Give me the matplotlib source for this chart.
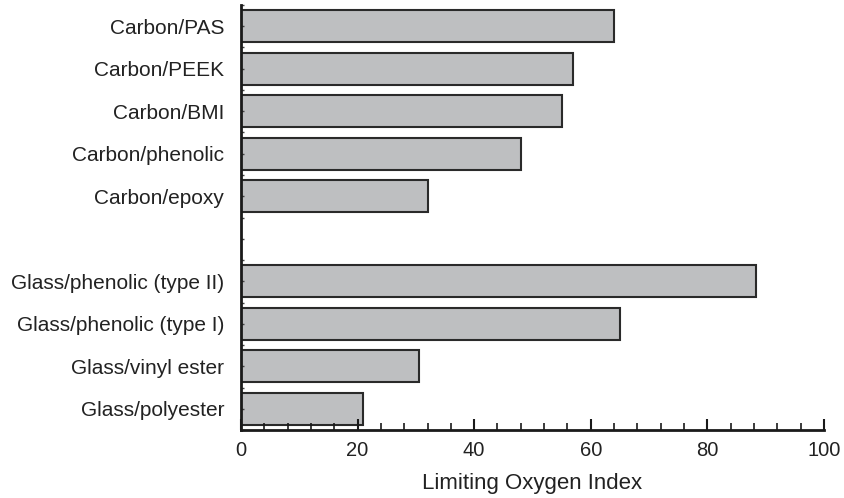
import matplotlib.pyplot as plt
from matplotlib.ticker import MultipleLocator

plt.rcParams['font.family'] = ['Liberation Sans', 'DejaVu Sans']

# dados (de cima para baixo); None = linha vazia entre os grupos
materiais = ['Carbon/PAS', 'Carbon/PEEK', 'Carbon/BMI', 'Carbon/phenolic', 'Carbon/epoxy', '',
             'Glass/phenolic (type II)', 'Glass/phenolic (type I)', 'Glass/vinyl ester', 'Glass/polyester']
loi = [64, 57, 55, 48, 32, None, 88.3, 65, 30.5, 21]

fig = plt.figure(figsize=(8.45, 4.98), dpi=100)
ax = fig.add_axes([0.2852, 0.1365, 0.9751 - 0.2852, 0.99 - 0.1365])

posicoes = [i for i, v in enumerate(loi) if v is not None]
valores = [v for v in loi if v is not None]
ax.barh(posicoes, valores, height=0.75, color='#bebfc1', edgecolor='#2a2a2a', linewidth=1.5)

ax.set_xlim(0, 100)
ax.set_ylim(len(materiais) - 0.5, -0.5)
ax.set_yticks(range(len(materiais)))
ax.set_yticklabels(materiais, fontsize=15)
ax.yaxis.set_minor_locator(MultipleLocator(0.5))
ax.xaxis.set_major_locator(MultipleLocator(20))
ax.xaxis.set_minor_locator(MultipleLocator(4))

for lado in ['top', 'right']:
    ax.spines[lado].set_visible(False)
for lado in ['left', 'bottom']:
    ax.spines[lado].set_linewidth(2)
    ax.spines[lado].set_color('#1a1a1a')

ax.tick_params(axis='x', which='major', direction='in', length=8, width=1.5, labelsize=14.5, pad=8, color='#1a1a1a')
ax.tick_params(axis='x', which='minor', direction='in', length=5, width=1.2, color='#1a1a1a')
ax.tick_params(axis='y', which='both', direction='in', length=2, width=1, pad=12, color='#444444')
for t in ax.get_xticklabels() + ax.get_yticklabels():
    t.set_color('#222222')

ax.set_xlabel('Limiting Oxygen Index', fontsize=16, color='#222222', labelpad=9)

plt.savefig('out.png', dpi=100)
